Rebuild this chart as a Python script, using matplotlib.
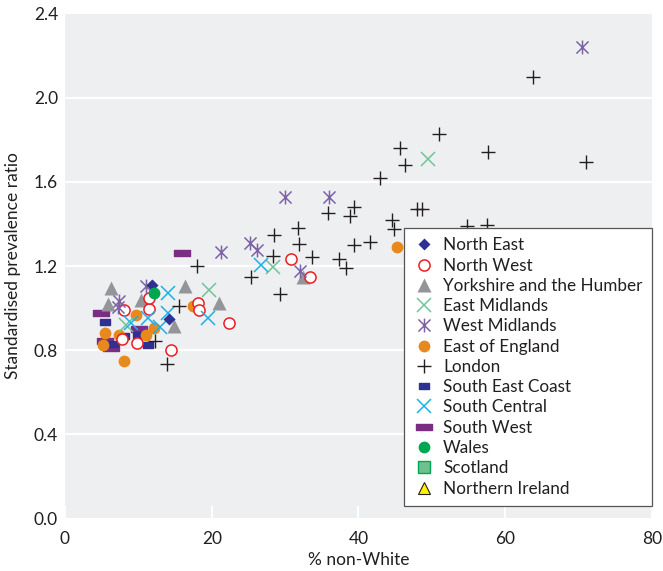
import matplotlib.pyplot as plt
from matplotlib.path import Path

# % non-White (x) and standardised prevalence ratio (y) per region
ne_x = [11.8, 14.2]
ne_y = [1.11, 0.946]

nw_x = [30.8, 33.4, 22.4, 18.1, 18.3, 11.5, 8.1, 14.4, 9.8, 7.8, 11.5]
nw_y = [1.233, 1.149, 0.93, 1.025, 0.99, 0.994, 0.99, 0.80, 0.835, 0.851, 1.05]

yh_x = [32.5, 21.0, 6.3, 10.3, 16.3, 5.8, 14.9]
yh_y = [1.149, 1.022, 1.094, 1.038, 1.105, 1.018, 0.914]

em_x = [49.5, 28.4, 19.6, 8.3]
em_y = [1.71, 1.197, 1.086, 0.919]

wm_x = [70.5, 30.0, 36.0, 25.2, 26.2, 21.3, 32.0, 7.3, 11.1, 7.2]
wm_y = [2.243, 1.53, 1.53, 1.311, 1.276, 1.268, 1.178, 1.035, 1.105, 1.006]

eoe_x = [45.3, 17.4, 9.7, 12.2, 5.4, 7.3, 11.1, 5.2, 8.0]
eoe_y = [1.292, 1.01, 0.967, 0.903, 0.88, 0.871, 0.871, 0.824, 0.749]

lon_x = [63.8, 51.0, 45.7, 57.7, 46.4, 71.0, 42.9, 39.4, 35.8, 38.9, 48.0, 48.6,
         44.6, 44.8, 54.8, 57.5, 31.8, 28.5, 31.9, 39.4, 41.6, 28.4, 33.7, 37.4,
         38.3, 25.4, 29.3, 18.0, 15.6, 12.3, 13.9]
lon_y = [2.10, 1.827, 1.760, 1.744, 1.681, 1.694, 1.621, 1.483, 1.454, 1.438, 1.470, 1.470,
         1.419, 1.375, 1.390, 1.395, 1.382, 1.346, 1.303, 1.299, 1.316, 1.249, 1.244, 1.232,
         1.192, 1.149, 1.065, 1.20, 1.01, 0.844, 0.733]

sec_x = [5.4, 8.1, 9.9, 11.3, 6.5]
sec_y = [0.935, 0.868, 0.871, 0.824, 0.829]

sc_x = [26.7, 14.0, 14.0, 19.5, 12.9, 11.3, 9.0]
sc_y = [1.205, 1.07, 0.975, 0.951, 0.911, 0.951, 0.927]

sw_x = [15.9, 4.9, 10.1, 5.4, 6.3]
sw_y = [1.262, 0.978, 0.898, 0.843, 0.811]

wal_x = [12.1]
wal_y = [1.07]

sco_x = []
sco_y = []

ni_x = []
ni_y = []

plt.rcParams['font.family'] = ['Lato', 'DejaVu Sans']
text_col = '#231f20'

# asterisk: X plus a vertical stroke
star = Path([(-1, -1), (1, 1), (-1, 1), (1, -1), (0, -1.15), (0, 1.15)],
            [Path.MOVETO, Path.LINETO, Path.MOVETO, Path.LINETO, Path.MOVETO, Path.LINETO])
bar_short = Path([(-1, -0.55), (1, -0.55), (1, 0.55), (-1, 0.55), (-1, -0.55)],
                 [Path.MOVETO, Path.LINETO, Path.LINETO, Path.LINETO, Path.CLOSEPOLY])
bar_long = Path([(-1, -0.38), (1, -0.38), (1, 0.38), (-1, 0.38), (-1, -0.38)],
                [Path.MOVETO, Path.LINETO, Path.LINETO, Path.LINETO, Path.CLOSEPOLY])

fig = plt.figure(figsize=(6.63, 5.71), dpi=100)
ax = fig.add_axes([0.098, 0.0928, 0.8854, 0.8827])
ax.set_facecolor('#eeeff1')

ax.plot(sw_x, sw_y, ls='none', marker=bar_long, ms=11, color='#7b2c83')
ax.plot(sec_x, sec_y, ls='none', marker=bar_short, ms=7, color='#2e3192')
ax.plot(eoe_x, eoe_y, ls='none', marker='o', ms=8.5, color='#e8891d', mec='none')
ax.plot(yh_x, yh_y, ls='none', marker='^', ms=10, color='#939598', mec='none')
ax.plot(nw_x, nw_y, ls='none', marker='o', ms=8, mfc='white', mec='#ed1c24', mew=1.1)
ax.plot(em_x, em_y, ls='none', marker='x', ms=10, color='#6fc49a', mew=1.1)
ax.plot(sc_x, sc_y, ls='none', marker='x', ms=10, color='#1ab0ea', mew=1.1)
ax.plot(wm_x, wm_y, ls='none', marker=star, ms=10, color='#7d63a5', mew=1.1)
ax.plot(lon_x, lon_y, ls='none', marker='+', ms=10, color='#231f20', mew=1.0)
ax.plot(ne_x, ne_y, ls='none', marker='D', ms=6.5, color='#2e3192', mec='none')
ax.plot(wal_x, wal_y, ls='none', marker='o', ms=8.5, color='#00a651', mec='none')

# legend handles
handles = [
    ax.plot([], [], ls='none', marker='D', ms=6.5, color='#2e3192', mec='none')[0],
    ax.plot([], [], ls='none', marker='o', ms=8, mfc='white', mec='#ed1c24', mew=1.1)[0],
    ax.plot([], [], ls='none', marker='^', ms=10, color='#939598', mec='none')[0],
    ax.plot([], [], ls='none', marker='x', ms=10, color='#6fc49a', mew=1.1)[0],
    ax.plot([], [], ls='none', marker=star, ms=10, color='#7d63a5', mew=1.1)[0],
    ax.plot([], [], ls='none', marker='o', ms=8.5, color='#e8891d', mec='none')[0],
    ax.plot([], [], ls='none', marker='+', ms=10, color='#231f20', mew=1.0)[0],
    ax.plot([], [], ls='none', marker=bar_short, ms=7, color='#2e3192')[0],
    ax.plot([], [], ls='none', marker='x', ms=10, color='#1ab0ea', mew=1.1)[0],
    ax.plot([], [], ls='none', marker=bar_long, ms=11, color='#7b2c83')[0],
    ax.plot([], [], ls='none', marker='o', ms=8.5, color='#00a651', mec='none')[0],
    ax.plot(sco_x, sco_y, ls='none', marker='s', ms=8, mfc='#6fbf8f', mec='#00a651', mew=1.0)[0],
    ax.plot(ni_x, ni_y, ls='none', marker='^', ms=9, mfc='#fff200', mec='#231f20', mew=0.8)[0],
]
labels = ['North East', 'North West', 'Yorkshire and the Humber', 'East Midlands',
          'West Midlands', 'East of England', 'London', 'South East Coast',
          'South Central', 'South West', 'Wales', 'Scotland', 'Northern Ireland']
leg = ax.legend(handles, labels, loc='lower right', bbox_to_anchor=(1.0, 0.024),
                borderaxespad=0, fancybox=False, framealpha=1, edgecolor='#555555',
                fontsize=12.3, labelspacing=0.25, handletextpad=0.45, handlelength=1.3,
                borderpad=0.55, labelcolor=text_col)
leg.get_frame().set_linewidth(0.9)

ax.set_xlim(0, 80)
ax.set_ylim(0, 2.4)
ax.set_xticks([0, 20, 40, 60, 80])
ax.set_yticks([0.0, 0.4, 0.8, 1.2, 1.6, 2.0, 2.4])
ax.set_yticklabels(['0.0', '0.4', '0.8', '1.2', '1.6', '2.0', '2.4'])
for y in [0.4, 0.8, 1.2, 1.6, 2.0]:
    ax.axhline(y, color='white', lw=1.6, zorder=0.5)
for s in ax.spines.values():
    s.set_visible(False)
ax.tick_params(axis='x', direction='in', color='white', length=9, width=1.5,
               labelsize=12.5, labelcolor=text_col, pad=9)
ax.tick_params(axis='y', length=0, labelsize=12.5, labelcolor=text_col, pad=5)
ax.set_xlabel('% non-White', fontsize=12.5, color=text_col, labelpad=4)
ax.set_ylabel('Standardised prevalence ratio', fontsize=12.5, color=text_col, labelpad=9)

fig.savefig('out.png', dpi=100)
